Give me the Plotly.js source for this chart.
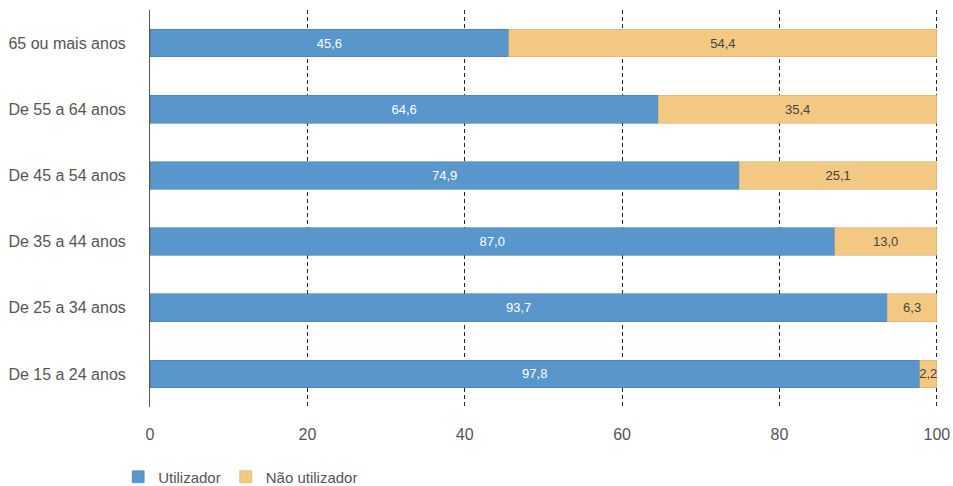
<!DOCTYPE html>
<html>
<head>
<meta charset="utf-8">
<script src="https://cdn.plot.ly/plotly-3.0.1.min.js"></script>
<style>html,body{margin:0;padding:0;background:#fff;}#chart{width:953px;height:486px;}</style>
</head>
<body>
<div id="chart"></div>
<script>
const categories = ["De 15 a 24 anos", "De 25 a 34 anos", "De 35 a 44 anos", "De 45 a 54 anos", "De 55 a 64 anos", "65 ou mais anos"];
const utilizador = [97.8, 93.7, 87.0, 74.9, 64.6, 45.6];
const naoUtilizador = [2.2, 6.3, 13.0, 25.1, 35.4, 54.4];
const seriesNames = ["Utilizador", "Não utilizador"];
const xTicks = [0, 20, 40, 60, 80, 100];

const fontFam = "Liberation Sans, Arial, sans-serif";

const traces = [
  {
    type: "bar", orientation: "h", name: seriesNames[0],
    y: categories, x: utilizador,
    marker: {color: "#5896CB", line: {color: "#4a7fae", width: 0.6}},
    texttemplate: "%{x:.1f}", textposition: "inside", insidetextanchor: "middle",
    textangle: 0, constraintext: "none",
    insidetextfont: {color: "#ffffff", size: 13, family: fontFam},
    hoverinfo: "skip"
  },
  {
    type: "bar", orientation: "h", name: seriesNames[1],
    y: categories, x: naoUtilizador,
    marker: {color: "#F3C883", line: {color: "#d6ad6a", width: 0.6}},
    texttemplate: "%{x:.1f}", textposition: "inside", insidetextanchor: "middle",
    textangle: 0, constraintext: "none",
    insidetextfont: {color: "#444444", size: 13, family: fontFam},
    hoverinfo: "skip"
  }
];

const layout = {
  width: 953, height: 486,
  margin: {l: 150, r: 13, t: 10, b: 79},
  barmode: "stack",
  bargap: 0.58,
  separators: ", ",
  paper_bgcolor: "#ffffff", plot_bgcolor: "#ffffff",
  font: {family: fontFam, size: 16, color: "#444444"},
  xaxis: {
    range: [0, 100.4], tickvals: xTicks, ticktext: xTicks.map(String),
    showgrid: true, gridcolor: "#222222", griddash: "4px,3px", gridwidth: 1,
    zeroline: false, showline: false, automargin: false,
    ticks: "", ticklabelstandoff: 16,
    tickfont: {size: 16, color: "#555555"}
  },
  yaxis: {
    categoryorder: "array", categoryarray: categories,
    range: [-0.5, 5.5], automargin: false,
    showline: true, linecolor: "#555555", linewidth: 1,
    showgrid: false, zeroline: false,
    ticks: "", ticklabelstandoff: 20,
    tickfont: {size: 16, color: "#555555"}
  },
  showlegend: true,
  legend: {
    orientation: "h", xref: "container", yref: "container",
    x: 0.124, xanchor: "left", y: 0.0185, yanchor: "middle",
    font: {size: 15, color: "#555555"}, traceorder: "normal",
    itemwidth: 30
  }
};

Plotly.newPlot("chart", traces, layout, {displayModeBar: false, staticPlot: true});
</script>
</body>
</html>
